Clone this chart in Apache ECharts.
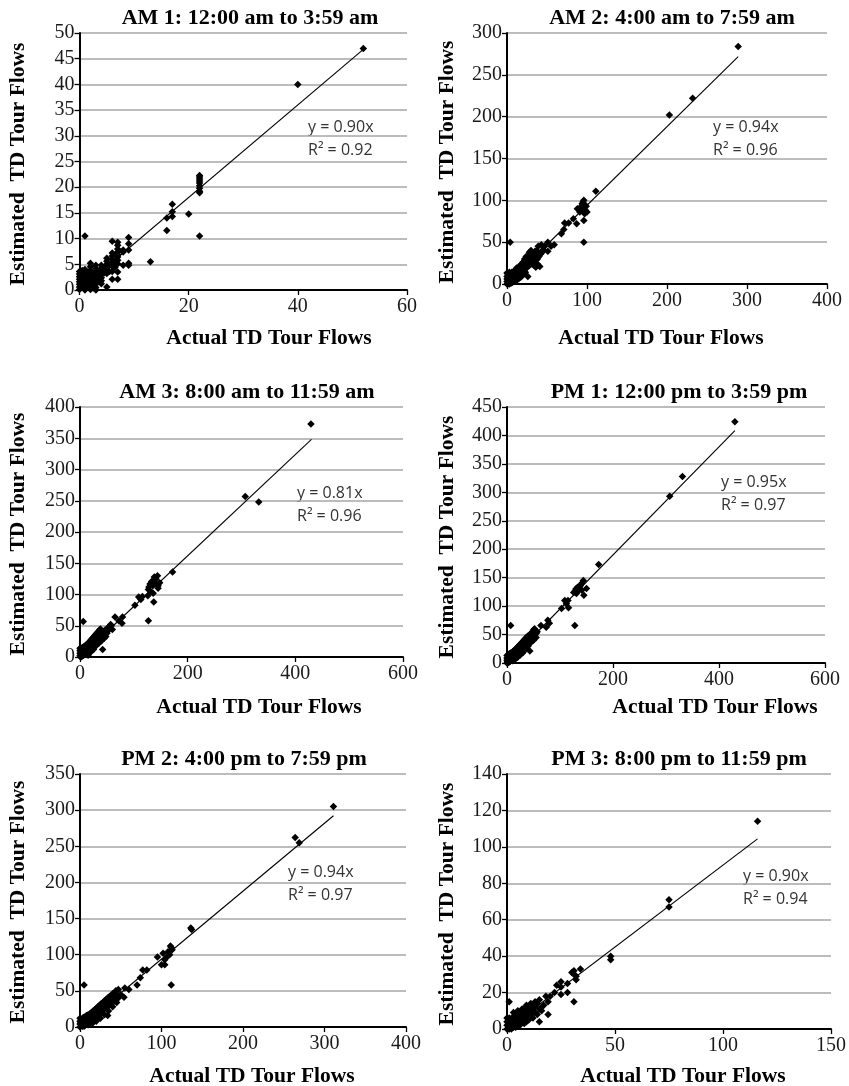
<!DOCTYPE html>
<html><head><meta charset="utf-8">
<script src="https://cdn.jsdelivr.net/npm/echarts@6/dist/echarts.min.js"></script>
<style>html,body{margin:0;padding:0;background:#fff}#c{width:849px;height:1086px}</style>
</head><body><div id="c"></div>
<script>
const panelTitles = ["AM 1: 12:00 am to 3:59 am","AM 2: 4:00 am to 7:59 am","AM 3: 8:00 am to 11:59 am","PM 1: 12:00 pm to 3:59 pm","PM 2: 4:00 pm to 7:59 pm","PM 3: 8:00 pm to 11:59 pm"];
const equations = ["y = 0.90x","y = 0.94x","y = 0.81x","y = 0.95x","y = 0.94x","y = 0.90x"];
const rSquared = ["R² = 0.92","R² = 0.96","R² = 0.96","R² = 0.97","R² = 0.97","R² = 0.94"];
const xAxisName = "Actual TD Tour Flows";
const yAxisName = "Estimated  TD Tour Flows";
const xMax = [60,400,600,600,400,150];
const xInterval = [20,100,200,200,100,50];
const yMax = [50,300,400,450,350,140];
const yInterval = [5,50,50,50,50,20];
const trendEnd = [[52,46.8],[289,271.7],[430,348.3],[430,408.5],[311,292.3],[116,104.4]];

const am1Points = [[52,47],[40,40],
[22,22.3],[22,22],[22,21.6],[22,21.2],[22,20.8],[22,20.3],[22,19.8],[22,19.2],[22,18.9],[22,10.5],
[17,16.7],[17,15.2],[17,14.3],[16,14],[16,11.6],[20,14.8],[13,5.5],
[9,10.2],[9,9],[9,7.8],[9,5.2],[9,4.8],
[8,7.8],[8,7.4],[8,4.8],
[7,9.3],[7,8.7],[7,8],[7,7.4],[7,6.9],[7,6.4],[7,5.8],[7,5.1],[7,3.5],[7,2.1],
[6,9.5],[6,7.2],[6,6.6],[6,6],[6,5.3],[6,4.6],[6,3.6],[6,2.1],
[5,6.2],[5,5.6],[5,5],[5,4.4],[5,3.8],[5,3.2],[5,0.6],
[4,4.8],[4,4.2],[4,3.6],[4,3],[4,2.4],[4,1.8],[4,1.2],
[3,4.8],[3,4.2],[3,3.6],[3,3],[3,2.4],[3,1.8],[3,1.2],[3,0.5],[3,0],
[2,5.2],[2,4.5],[2,3.8],[2,3.2],[2,2.5],[2,1.9],[2,1.3],[2,0.7],[2,0.1],
[1,10.5],[1,4],[1,3.4],[1,2.8],[1,2.2],[1,1.6],[1,1],[1,0.4],[1,0],
[0,3.6],[0,3.1],[0,2.6],[0,2.1],[0,1.6],[0,1.1],[0,0.6],[0,0.1],
[0.5,3.8],[0.5,2.9],[0.5,2],[0.5,1.3],[0.5,0.6],
[1.5,3.3],[1.5,2.4],[1.5,1.5],[1.5,0.6],
[2.5,2.8],[2.5,2],[2.5,1.2],[2.5,0.4],
[3.5,3.5],[3.5,2.6],[3.5,1.6],
[4.5,4.4],[4.5,3.3],[6.5,5.6],[6.5,4.4],[5.5,4.8],[5.5,3.6]];

const am2Points = [[289,284],[232,222],[203,202],[111,111],
[96,100],[95,98],[94,96],[97,95],[93,93],[96,92],[99,93],[92,90],[95,89],[98,88],[91,86],[100,86],[97,84],[88,90],[96,76],[96,50],[4,50],
[83,78],[87,72],[77,73],[72,73],[71,65],[68,60],[59,47],[51,50],[51,39],[43,47],[39,45],[35,39],[30,40],[47,45],[55,45],
[42,36],[40,33],[38,30],[36,34],[35,28],[33,31],[33,36],[32,27],[31,33],[30,24],[30,30],[29,35],[28,28],[28,22],[27,31],[26,25],[26,9],[25,20],[25,28],[24,23],[23,26],[23,18],[22,21],[21,24],[20,17],[20,20],[19,22],[18,15],[18,18],[17,20],[16,13],[16,16],[15,19],[14,11],[14,14],[13,17],[12,10],[12,13],[11,15],[10,8],[10,11],[9,13],[8,6],[8,9],[7,11],[6,5],[6,8],[5,10],[4,3],[4,6],[3,8],[2,2],[2,5],[1,12],[1,3],[0,13],[0,9],[0,6],[0,3],[0,0],[1,0],[3,0],[5,1],[7,2],[9,3],[11,4],[13,5],[15,7],[17,8],[19,10],[21,12],[23,14],[41,21],[38,24],[36,20],[34,22],[44,38],[45,41],[37,40],[28,38],[24,33],[22,30],[20,26],[18,24],[14,20],[12,19],[10,16],[8,15],[6,14],[4,12],[3,14]];

const am3Points = [[429,373],[307,257],[332,248],[172,136],
[144,130],[141,125],[138,128],[133,121],[130,117],[128,112],[127,108],[135,115],[140,118],[145,114],[148,119],[131,105],[136,102],[137,88],[126,98],[145,110],[127,58],[6,57],
[116,97],[109,96],[113,92],[102,83],[79,64],[65,64],[78,54],[72,58],[57,52],[53,48],
[50,45],[48,40],[46,43],[45,36],[44,39],[42,33],[41,30],[40,36],[38,35],[37,28],[35,31],[34,26],[32,29],[31,24],[30,27],[29,22],[28,25],[27,19],[26,23],[25,17],[24,21],[23,15],[22,19],[21,14],[20,18],[19,12],[18,16],[17,11],[16,14],[15,9],[14,13],[13,8],[12,11],[11,6],[10,10],[9,5],[8,8],[7,3],[6,7],[5,2],[4,5],[3,1],[2,4],[1,0],[0,2],[0,6],[0,10],[0,14],[2,12],[4,15],[6,16],[8,17],[10,18],[12,20],[14,21],[16,23],[18,25],[20,27],[22,29],[24,31],[26,33],[28,35],[30,37],[32,39],[34,41],[36,43],[38,45],[42,12],[45,30],[48,33],[50,38],[52,42],[55,47],[58,50],[60,44],[5,8],[10,5],[15,3],[20,8],[25,12],[30,18],[35,22],[40,26]];

const pm1Points = [[430,424],[331,328],[307,293],[173,173],
[144,145],[141,140],[138,136],[133,133],[130,130],[128,126],[126,124],[135,128],[141,128],[150,131],[145,119],[131,122],[137,134],[128,66],[7,66],
[115,110],[109,110],[103,96],[116,97],[112,104],[77,75],[64,66],[74,63],[52,60],[80,70],
[55,52],[52,48],[50,44],[48,50],[46,42],[44,46],[43,21],[42,38],[40,42],[39,35],[37,38],[36,32],[34,35],[33,29],[31,32],[30,26],[28,29],[27,23],[25,26],[24,20],[22,23],[21,17],[19,20],[18,14],[16,17],[15,11],[13,14],[12,8],[10,11],[9,6],[7,8],[6,3],[4,6],[3,1],[1,3],[0,0],[0,5],[0,9],[0,13],[2,14],[4,16],[6,17],[8,18],[10,19],[12,21],[14,22],[16,24],[18,26],[20,28],[22,30],[24,32],[26,34],[28,36],[30,38],[32,40],[34,42],[36,44],[38,46],[40,48],[45,52],[48,55],[50,58],[5,2],[10,4],[15,6],[20,10],[25,14],[30,18],[35,24],[40,30],[45,36],[50,40],[55,45],[57,55]];

const pm2Points = [[311,305],[264,262],[269,255],[136,137],[137,135],
[111,112],[113,107],[110,100],[102,102],[104,93],[100,86],[104,86],[95,97],[108,104],[106,96],[112,110],[112,58],[5,58],
[82,79],[77,79],[74,68],[70,58],[55,54],[47,52],[54,41],[44,50],[34,16],[60,52],[50,45],
[45,44],[43,40],[42,36],[40,41],[39,33],[38,38],[36,35],[35,29],[34,32],[32,34],[31,27],[30,30],[28,26],[27,22],[26,28],[25,24],[24,18],[22,22],[21,20],[20,15],[19,18],[18,12],[17,16],[16,14],[15,9],[14,12],[13,11],[12,6],[11,9],[10,12],[9,4],[8,7],[7,10],[6,2],[5,5],[4,8],[3,1],[2,3],[1,6],[0,0],[0,4],[0,8],[0,12],[2,10],[4,13],[6,14],[8,16],[10,17],[12,18],[14,20],[16,22],[18,24],[20,26],[22,28],[24,30],[26,32],[28,34],[30,36],[32,38],[34,40],[36,42],[38,44],[40,46],[5,1],[10,3],[15,5],[20,8],[25,12],[30,17],[35,22],[40,28],[45,34],[47,40]];

const pm3Points = [[116,114],[75,71],[75,67],[48,40],[48,38],
[34,33],[31,32],[31,30],[32,29],[32,27],[31,15],[28,25],[25,26],[25,23],[25,19],[28,20],[23,24],[20,18],[19,15],[19,8],[15,4],[15,16],[1,15],[30,31],[22,20],[18,18],
[14,14],[13,12],[12,13],[12,10],[11,11],[11,8],[10,12],[10,9],[9,10],[9,7],[8,11],[8,8],[8,5],[7,9],[7,6],[6,7],[6,4],[5,8],[5,5],[5,2],[4,6],[4,3],[3,7],[3,4],[3,1],[2,5],[2,2],[1,6],[1,3],[1,0],[0,6],[0,4],[0,2],[0,0],[2,0],[4,1],[6,2],[8,3],[10,5],[12,6],[14,8],[16,10],[17,13],[16,12],[13,15],[11,14],[9,13],[7,11],[5,10],[3,9],[9,4],[13,9],[15,11]];

const allPoints = [am1Points, am2Points, am3Points, pm1Points, pm2Points, pm3Points];

// layout (pixels)
const grids = [
  {left:79.5, top:33, width:327.5, height:257},
  {left:507, top:33, width:320, height:251},
  {left:80, top:407, width:323, height:250},
  {left:507, top:407, width:318, height:256},
  {left:80, top:774, width:326, height:253},
  {left:507, top:774, width:326, height:255}
];
const titlePos = [[250,18],[672,18],[247,392],[679,392],[244,759],[679,759]];
const xNamePos = [[269,338],[661,338],[259,707],[715,707],[252,1076],[683,1076]];
const yNamePos = [[18,164],[447,162],[18,534],[447,537],[18,902],[447,904]];
const eqPos = [[308,127],[713,127],[297,493],[721,482],[288,872],[743,876]];

const serif = "'Liberation Serif', 'DejaVu Serif', serif";
const sans = "'Open Sans', 'Noto Sans', sans-serif";

const xAxes = [], yAxes = [], series = [], graphics = [];
for (let i = 0; i < 6; i++) {
  xAxes.push({
    gridIndex: i, type: 'value', min: 0, max: xMax[i], interval: xInterval[i],
    axisLine: {show: true, onZero: false, lineStyle: {color: '#000', width: 2}},
    axisTick: {show: true, length: 5, lineStyle: {color: '#000', width: 1.3}},
    axisLabel: {color: '#1a1a1a', fontFamily: serif, fontSize: 20, margin: 7},
    splitLine: {show: false}
  });
  yAxes.push({
    gridIndex: i, type: 'value', min: 0, max: yMax[i], interval: yInterval[i],
    axisLine: {show: true, onZero: false, lineStyle: {color: '#000', width: 2}},
    axisTick: {show: true, length: 5, lineStyle: {color: '#000', width: 1.3}},
    axisLabel: {color: '#1a1a1a', fontFamily: serif, fontSize: 20, margin: 5},
    splitLine: {show: true, lineStyle: {color: '#a6a6a6', width: 1.5}}
  });
  series.push({
    type: 'scatter', xAxisIndex: i, yAxisIndex: i, data: allPoints[i],
    symbol: 'diamond', symbolSize: 7.5, itemStyle: {color: '#000', opacity: 1}, silent: true, z: 3
  });
  series.push({
    type: 'line', xAxisIndex: i, yAxisIndex: i, data: [[0,0], trendEnd[i]],
    symbol: 'none', lineStyle: {color: '#000', width: 1.1}, silent: true, z: 4
  });
  graphics.push({type:'text', x:titlePos[i][0], y:titlePos[i][1], style:{text:panelTitles[i], font:"bold 22px "+serif, fill:'#000', textAlign:'center', textVerticalAlign:'middle'}});
  graphics.push({type:'text', x:xNamePos[i][0], y:xNamePos[i][1], style:{text:xAxisName, font:"bold 21.5px "+serif, fill:'#000', textAlign:'center', textVerticalAlign:'middle'}});
  graphics.push({type:'text', x:yNamePos[i][0], y:yNamePos[i][1], rotation:Math.PI/2, style:{text:yAxisName, font:"bold 21.5px "+serif, fill:'#000', textAlign:'center', textVerticalAlign:'middle'}});
  graphics.push({type:'text', x:eqPos[i][0], y:eqPos[i][1], style:{text:equations[i], font:"16px "+sans, fill:'#333', textAlign:'left', textVerticalAlign:'middle'}});
  graphics.push({type:'text', x:eqPos[i][0], y:eqPos[i][1]+23, style:{text:rSquared[i], font:"16px "+sans, fill:'#333', textAlign:'left', textVerticalAlign:'middle'}});
}

const chart = echarts.init(document.getElementById('c'), null, {renderer:'canvas'});
chart.setOption({
  backgroundColor: '#fff',
  animation: false,
  grid: grids,
  xAxis: xAxes,
  yAxis: yAxes,
  series: series,
  graphic: graphics
});
</script></body></html>
